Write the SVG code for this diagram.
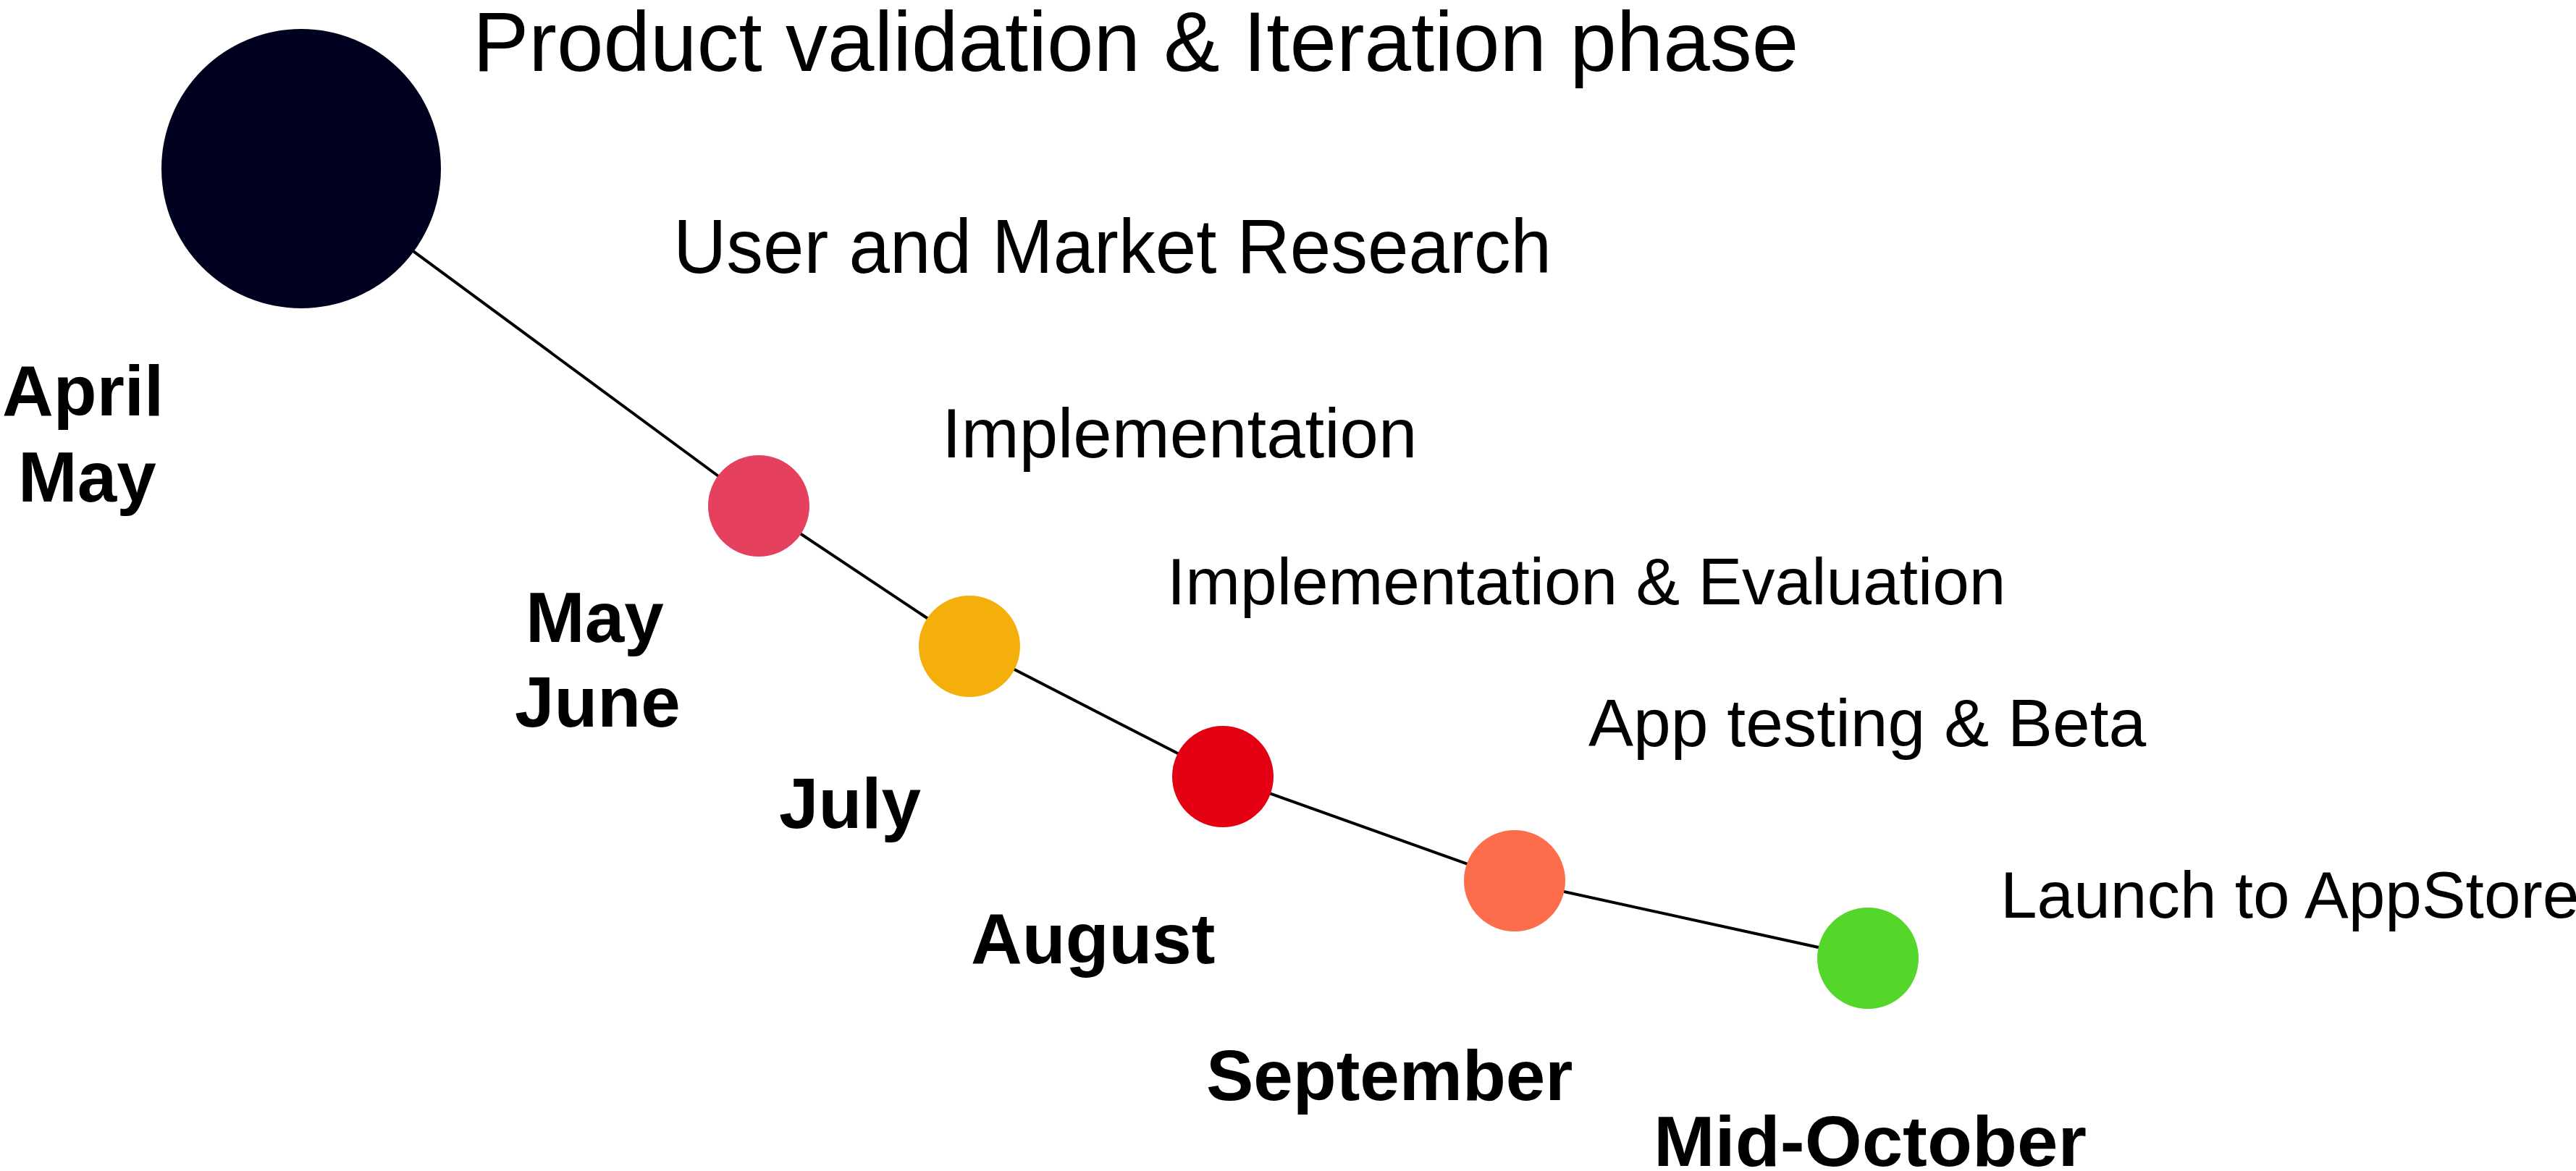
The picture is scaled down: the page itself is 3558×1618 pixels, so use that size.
<svg xmlns="http://www.w3.org/2000/svg" width="3558" height="1618" viewBox="0 0 3558 1618">
<style>
.bg{fill:#ffffff}
.edge{stroke:#000000;stroke-width:4;fill:none}
.phase{font-family:"Liberation Sans",Arial,Helvetica,sans-serif;fill:#000000}
.month{font-family:"Liberation Sans",Arial,Helvetica,sans-serif;font-weight:bold;font-size:98px;fill:#000000}
</style>
<rect class="bg" x="0" y="0" width="3558" height="1618"/>
<g id="connectors">
<polyline class="edge" points="416,233 1048,699 1339,893 1689,1073 2092,1217 2580,1324"/>
</g>
<g id="title">
<text class="phase" x="653" y="98" font-size="116">Product validation &amp; Iteration phase</text>
</g>
<g id="node-april-may">
<circle cx="416" cy="233" r="193" fill="#00001F"/>
<text class="phase" x="930" y="377" font-size="105" textLength="1213" lengthAdjust="spacingAndGlyphs">User and Market Research</text>
<text class="month" x="3" y="574">April</text>
<text class="month" x="25" y="693">May</text>
</g>
<g id="node-may-june">
<circle cx="1048" cy="699" r="70" fill="#E5405E"/>
<text class="phase" x="1301" y="632" font-size="96">Implementation</text>
<text class="month" x="726" y="887">May</text>
<text class="month" x="711" y="1004">June</text>
</g>
<g id="node-july">
<circle cx="1339" cy="893" r="70" fill="#F5AF0B"/>
<text class="phase" x="1612" y="835" font-size="91">Implementation &amp; Evaluation</text>
<text class="month" x="1076" y="1144">July</text>
</g>
<g id="node-august">
<circle cx="1689" cy="1073" r="70" fill="#E30012"/>
<text class="phase" x="2194" y="1031" font-size="93">App testing &amp; Beta</text>
<text class="month" x="1341" y="1331">August</text>
</g>
<g id="node-september">
<circle cx="2092" cy="1217" r="70" fill="#FD6C4B"/>
<text class="month" x="1666" y="1520">September</text>
</g>
<g id="node-mid-october">
<circle cx="2580" cy="1324" r="70" fill="#55D62B"/>
<text class="phase" x="2763" y="1268" font-size="91">Launch to AppStore</text>
<text class="month" x="2284" y="1611" font-size="99" textLength="598" lengthAdjust="spacingAndGlyphs">Mid-October</text>
</g>
</svg>
